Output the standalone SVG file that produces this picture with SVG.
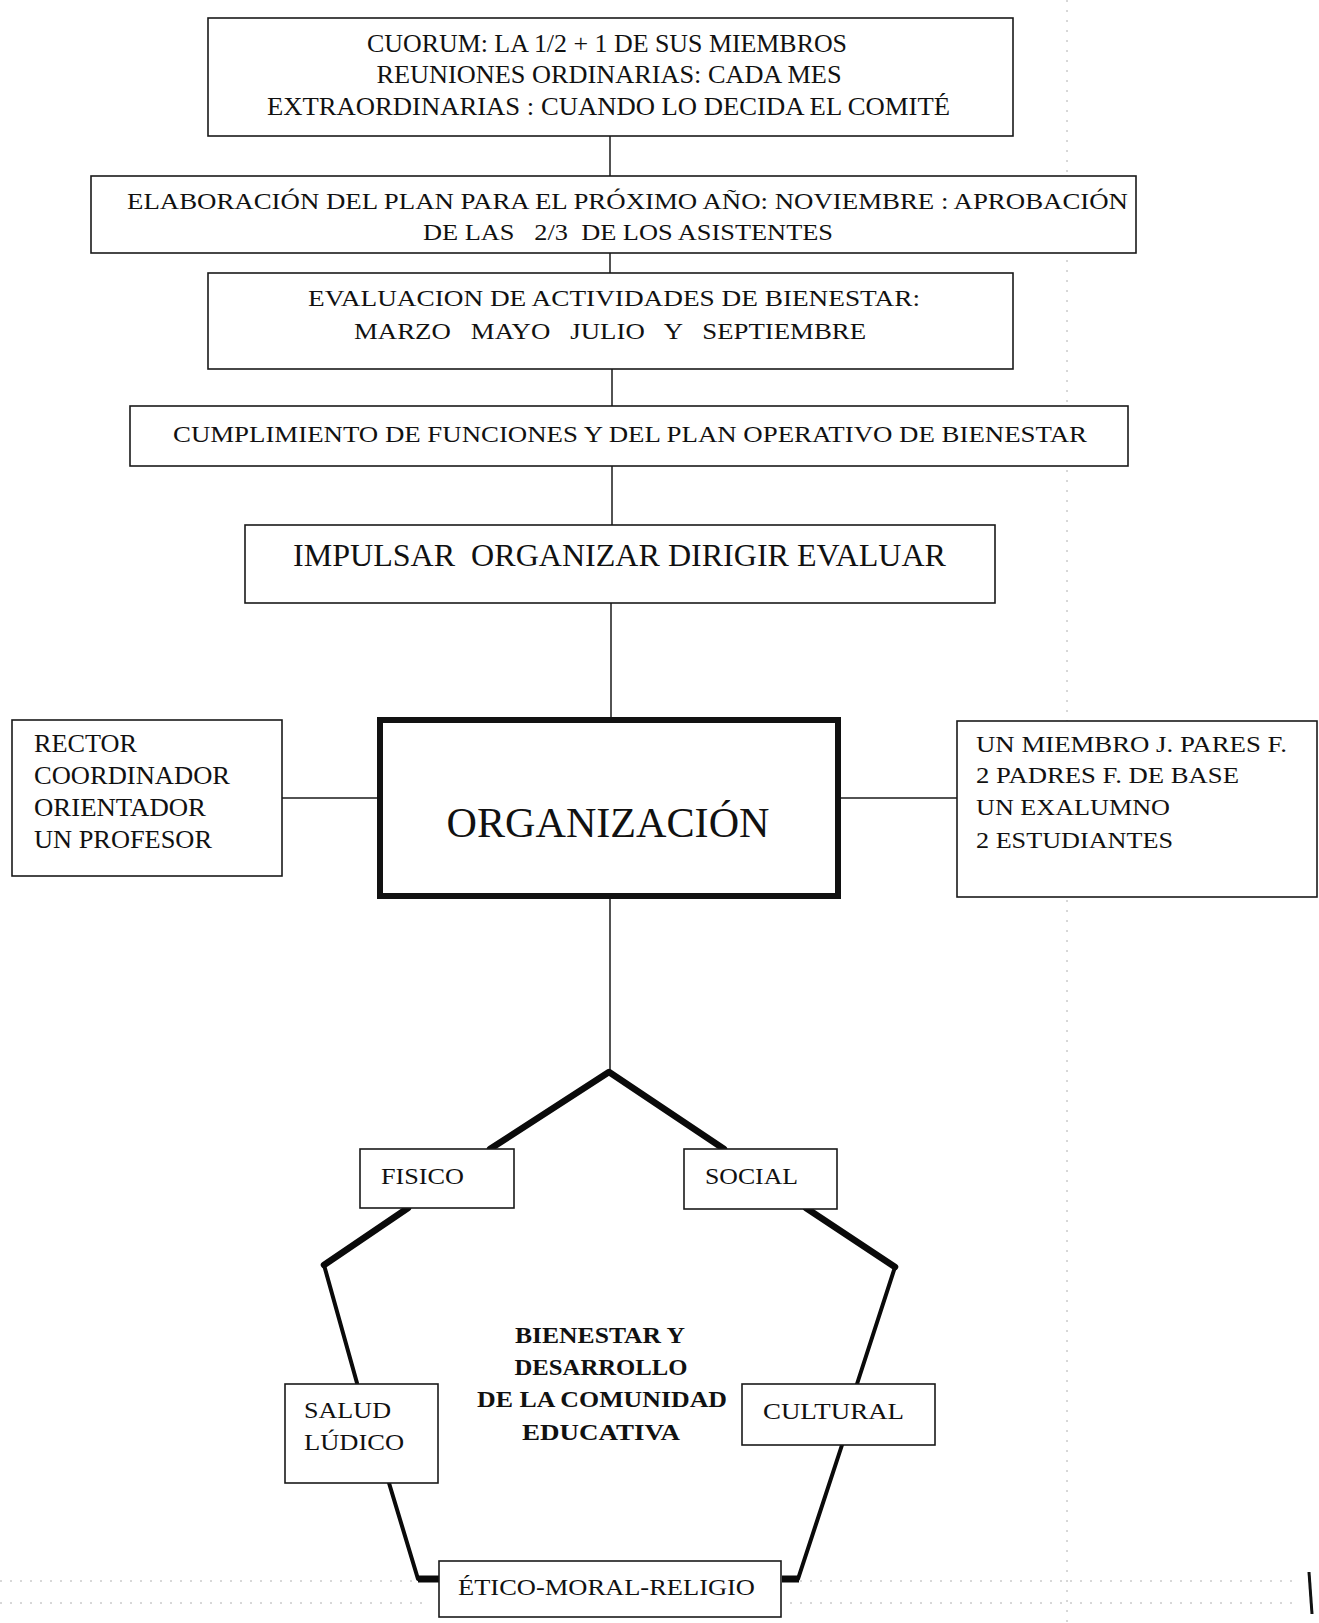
<svg xmlns="http://www.w3.org/2000/svg" width="1319" height="1623" viewBox="0 0 1319 1623">
<style>
  .box { fill: #fff; stroke: #1a1a1a; stroke-width: 1.6; }
  .thick { fill: #fff; stroke: #111; stroke-width: 6; }
  .t { font-family: "Liberation Serif", "Times New Roman", serif; font-size: 24px; fill: #111; }
  .tm { text-anchor: middle; }
  .b { font-weight: bold; }
  .conn { stroke: #1a1a1a; stroke-width: 1.5; fill: none; }
  .pent { stroke: #0a0a0a; fill: none; stroke-linejoin: round; stroke-linecap: round; }
  .noise { stroke: #b0b0b0; stroke-width: 1; fill: none; stroke-dasharray: 2 8; }
</style>
<rect width="1319" height="1623" fill="#fff"/>

<g id="scan-marks">
  <line class="noise" x1="1067" y1="0" x2="1067" y2="1623"/>
  <line class="noise" x1="0" y1="1581" x2="420" y2="1581"/>
  <line class="noise" x1="800" y1="1581" x2="1300" y2="1581"/>
  <line class="noise" x1="0" y1="1603" x2="430" y2="1603"/>
  <line class="noise" x1="790" y1="1603" x2="1300" y2="1603"/>
  <line x1="1309" y1="1572" x2="1312" y2="1614" stroke="#111" stroke-width="3"/>
</g>

<g id="connectors">
  <line class="conn" x1="610" y1="136" x2="610" y2="176"/>
  <line class="conn" x1="610" y1="253" x2="610" y2="273"/>
  <line class="conn" x1="612" y1="369" x2="612" y2="406"/>
  <line class="conn" x1="612" y1="466" x2="612" y2="525"/>
  <line class="conn" x1="611" y1="603" x2="611" y2="718"/>
  <line class="conn" x1="282" y1="798" x2="377" y2="798"/>
  <line class="conn" x1="841" y1="798" x2="957" y2="798"/>
  <line class="conn" x1="610" y1="899" x2="610" y2="1072"/>
  <polyline class="pent" stroke-width="6.5" points="490,1149 609,1072 724,1149"/>
  <polyline class="pent" stroke-width="6.5" points="408,1208 324,1265"/>
  <polyline class="pent" stroke-width="4" points="324,1265 357,1383"/>
  <polyline class="pent" stroke-width="6.5" points="806,1208 895,1267"/>
  <polyline class="pent" stroke-width="4" points="895,1267 857,1384"/>
  <polyline class="pent" stroke-width="4" points="389,1483 418,1579"/>
  <polyline class="pent" stroke-width="4" points="842,1445 798,1579"/>
  <line x1="418" y1="1579" x2="439" y2="1579" stroke="#0a0a0a" stroke-width="7"/>
  <line x1="782" y1="1579" x2="799" y2="1579" stroke="#0a0a0a" stroke-width="7"/>
</g>

<g id="node-cuorum">
  <rect class="box" x="208" y="18" width="805" height="118"/>
  <text class="t tm" x="607" y="52" style="font-size:26px" textLength="480" lengthAdjust="spacingAndGlyphs">CUORUM: LA 1/2 + 1 DE SUS MIEMBROS</text>
  <text class="t tm" x="609" y="83" style="font-size:26px" textLength="465" lengthAdjust="spacingAndGlyphs">REUNIONES ORDINARIAS: CADA MES</text>
  <text class="t tm" x="608.5" y="115" style="font-size:26px" textLength="683" lengthAdjust="spacingAndGlyphs">EXTRAORDINARIAS : CUANDO LO DECIDA EL COMITÉ</text>
</g>

<g id="node-plan">
  <rect class="box" x="91" y="176" width="1045" height="77"/>
  <text class="t tm" x="627.5" y="209" textLength="1001" lengthAdjust="spacingAndGlyphs">ELABORACIÓN DEL PLAN PARA EL PRÓXIMO AÑO: NOVIEMBRE : APROBACIÓN</text>
  <text class="t tm" x="628" y="240" textLength="410" lengthAdjust="spacingAndGlyphs" xml:space="preserve">DE LAS   2/3  DE LOS ASISTENTES</text>
</g>

<g id="node-evaluacion">
  <rect class="box" x="208" y="273" width="805" height="96"/>
  <text class="t tm" x="614" y="306" textLength="612" lengthAdjust="spacingAndGlyphs">EVALUACION DE ACTIVIDADES DE BIENESTAR:</text>
  <text class="t tm" x="610" y="339" textLength="512" lengthAdjust="spacingAndGlyphs" xml:space="preserve">MARZO   MAYO   JULIO   Y   SEPTIEMBRE</text>
</g>

<g id="node-cumplimiento">
  <rect class="box" x="130" y="406" width="998" height="60"/>
  <text class="t tm" x="630" y="442" textLength="914" lengthAdjust="spacingAndGlyphs">CUMPLIMIENTO DE FUNCIONES Y DEL PLAN OPERATIVO DE BIENESTAR</text>
</g>

<g id="node-impulsar">
  <rect class="box" x="245" y="525" width="750" height="78"/>
  <text class="t tm" x="619.5" y="566" style="font-size:32px" textLength="653" lengthAdjust="spacingAndGlyphs" xml:space="preserve">IMPULSAR  ORGANIZAR DIRIGIR EVALUAR</text>
</g>

<g id="node-miembros-izq">
  <rect class="box" x="12" y="720" width="270" height="156"/>
  <text class="t" x="34" y="752" style="font-size:25px" textLength="103" lengthAdjust="spacingAndGlyphs">RECTOR</text>
  <text class="t" x="34" y="784" style="font-size:25px" textLength="196" lengthAdjust="spacingAndGlyphs">COORDINADOR</text>
  <text class="t" x="34" y="816" style="font-size:25px" textLength="172" lengthAdjust="spacingAndGlyphs">ORIENTADOR</text>
  <text class="t" x="34" y="848" style="font-size:25px" textLength="178" lengthAdjust="spacingAndGlyphs">UN PROFESOR</text>
</g>

<g id="node-organizacion">
  <rect class="thick" x="380" y="720" width="458" height="176"/>
  <text class="t tm" x="608" y="837" style="font-size:42px" textLength="323" lengthAdjust="spacingAndGlyphs">ORGANIZACIÓN</text>
</g>

<g id="node-miembros-der">
  <rect class="box" x="957" y="721" width="360" height="176"/>
  <text class="t" x="976" y="752" style="font-size:23px" textLength="311" lengthAdjust="spacingAndGlyphs">UN MIEMBRO J. PARES F.</text>
  <text class="t" x="976" y="783" style="font-size:23px" textLength="263" lengthAdjust="spacingAndGlyphs">2 PADRES F. DE BASE</text>
  <text class="t" x="976" y="815" style="font-size:23px" textLength="194" lengthAdjust="spacingAndGlyphs">UN EXALUMNO</text>
  <text class="t" x="976" y="848" style="font-size:23px" textLength="197" lengthAdjust="spacingAndGlyphs">2 ESTUDIANTES</text>
</g>

<g id="node-fisico">
  <rect class="box" x="360" y="1149" width="154" height="59"/>
  <text class="t" x="381" y="1184" textLength="83" lengthAdjust="spacingAndGlyphs">FISICO</text>
</g>

<g id="node-social">
  <rect class="box" x="684" y="1149" width="153" height="60"/>
  <text class="t" x="705" y="1184" textLength="93" lengthAdjust="spacingAndGlyphs">SOCIAL</text>
</g>

<g id="node-salud">
  <rect class="box" x="285" y="1384" width="153" height="99"/>
  <text class="t" x="304" y="1418" textLength="87" lengthAdjust="spacingAndGlyphs">SALUD</text>
  <text class="t" x="304" y="1450" textLength="100" lengthAdjust="spacingAndGlyphs">LÚDICO</text>
</g>

<g id="node-cultural">
  <rect class="box" x="742" y="1384" width="193" height="61"/>
  <text class="t" x="763" y="1419" textLength="141" lengthAdjust="spacingAndGlyphs">CULTURAL</text>
</g>

<g id="node-etico">
  <rect class="box" x="439" y="1561" width="342" height="56"/>
  <text class="t" x="458" y="1595" textLength="297" lengthAdjust="spacingAndGlyphs">ÉTICO-MORAL-RELIGIO</text>
</g>

<g id="node-centro">
  <text class="t tm b" x="600" y="1343" textLength="170" lengthAdjust="spacingAndGlyphs">BIENESTAR Y</text>
  <text class="t tm b" x="601" y="1375" textLength="173" lengthAdjust="spacingAndGlyphs">DESARROLLO</text>
  <text class="t tm b" x="602" y="1407" textLength="250" lengthAdjust="spacingAndGlyphs">DE LA COMUNIDAD</text>
  <text class="t tm b" x="601" y="1440" textLength="158" lengthAdjust="spacingAndGlyphs">EDUCATIVA</text>
</g>
</svg>
